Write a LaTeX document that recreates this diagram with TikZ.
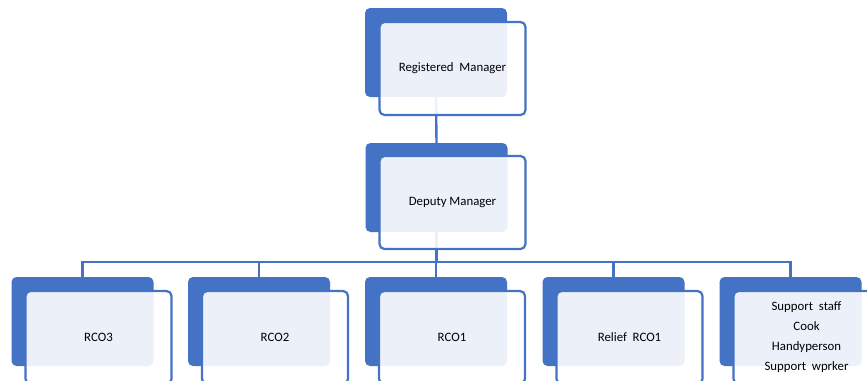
\documentclass[tikz,border=0pt]{standalone}
\usepackage{fontspec}
\setmainfont{Carlito}
\usepackage{tikz}
\usetikzlibrary{positioning}
\definecolor{boxblue}{HTML}{4472C4}

\begin{document}
\begin{tikzpicture}[x=1pt, y=-1pt, font=\fontsize{12.8}{20}\selectfont,
  backbox/.style={fill=boxblue, draw=none, rounded corners=5pt,
    minimum width=142pt, minimum height=89pt, inner sep=0pt},
  frontbox/.style={draw=boxblue, line width=2.2pt, fill=white, fill opacity=.9,
    text opacity=1, rounded corners=5pt, minimum width=146pt, minimum height=93pt,
    inner sep=0pt, align=center},
  link/.style={draw=boxblue, line width=2.4pt}]
\useasboundingbox (0,0) rectangle (867,380);

% back boxes
\node[backbox] (rmback) at (436,52.5) {};
\node[backbox] (dmback) at (436.5,187.5) {};
\node[backbox] (rco3back) at (82.5,321.5) {};
\node[backbox] (rco2back) at (259,321.5) {};
\node[backbox] (rco1back) at (436,321.5) {};
\node[backbox] (reliefback) at (613.5,321.5) {};
\node[backbox] (supportback) at (790.5,321.5) {};

% connectors
\draw[link] (rmback.south) -- (dmback.north);
\draw[link] (dmback.south) -- ++(0,30) coordinate (bus);
\foreach \child in {rco3back,rco2back,rco1back,reliefback,supportback}
  \draw[link] (bus) -| (\child.north);

% front boxes
\node[frontbox] (rm) at (452.5,68.5) {Registered\ \ Manager};
\node[frontbox] (dm) at (452.5,202.5) {Deputy Manager};
\node[frontbox] (rco3) at (98.5,337.5) {RCO3};
\node[frontbox] (rco2) at (275,337.5) {RCO2};
\node[frontbox] (rco1) at (452,337.5) {RCO1};
\node[frontbox] (relief) at (629.5,337.5) {Relief\ \ RCO1};
\node[frontbox] (support) at (806.5,337.5) {Support\ \ staff\\Cook\\Handyperson\\Support\ \ wprker};
\end{tikzpicture}
\end{document}
